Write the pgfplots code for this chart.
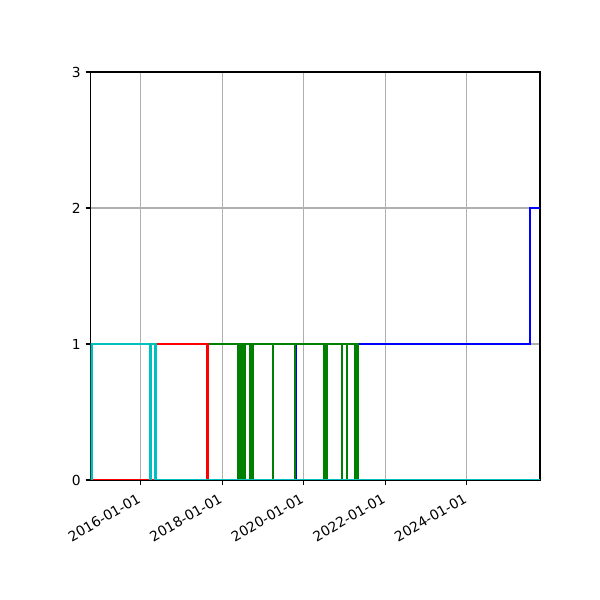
\documentclass[border=0pt]{standalone}
\usepackage{fontspec}
\setmainfont{DejaVu Sans}
\usepackage{pgfplots}
\pgfplotsset{compat=1.18}
\definecolor{mplb}{rgb}{0,0,1}
\definecolor{mplg}{rgb}{0,0.5,0}
\definecolor{mplr}{rgb}{1,0,0}
\definecolor{mplc}{rgb}{0,0.75,0.75}
\definecolor{gridgray}{HTML}{B0B0B0}
\begin{document}
\begin{tikzpicture}
\path (0,0) rectangle (6in,6in);
\begin{axis}[
  at={(0.905in,1.2in)}, anchor=south west,
  scale only axis, width=4.495in, height=4.08in,
  xmin=2014.7745, xmax=2025.792, ymin=0, ymax=3,
  xtick={2016,2018,2020,2022,2024},
  xticklabels={2016-01-01,2018-01-01,2020-01-01,2022-01-01,2024-01-01},
  ytick={0,1,2,3},
  /pgf/number format/assume math mode=true,
  tick pos=left, tick align=outside,
  major tick length=3.5bp,
  every tick/.style={black, line width=0.8bp},
  axis line style={black, line width=0.8bp},
  grid=major,
  major grid style={gridgray, line width=0.8bp},
  ticklabel style={font=\fontsize{10}{12}\selectfont},
  xticklabel style={rotate=30, anchor=north east, xshift=-2bp},
  every axis plot/.append style={line width=1.5bp, const plot, mark=none},
]
% blue
\addplot[mplb] coordinates {
(2014.7745,0)
(2018.384,1)(2018.390,0)
(2018.758,1)(2018.764,0)
(2019.800,1)(2019.806,0)
(2020.944,1)(2020.950,0)
(2021.066,1)(2021.072,0)
(2021.338,1)(2025.547,2)(2025.792,2)};
% green
\addplot[mplg] coordinates {
(2014.7745,0)
(2017.642,1)
(2018.390,0)(2018.398,1)
(2018.426,0)(2018.434,1)
(2018.463,0)(2018.471,1)
(2018.500,0)(2018.508,1)
(2018.537,0)(2018.545,1)
(2018.561,0)(2018.569,1)
(2018.696,0)(2018.704,1)
(2018.745,0)(2018.753,1)
(2019.248,0)(2019.256,1)
(2019.787,0)(2019.795,1)
(2020.498,0)(2020.506,1)
(2020.537,0)(2020.545,1)
(2020.571,0)(2020.579,1)
(2020.931,0)(2020.939,1)
(2021.054,0)(2021.062,1)
(2021.265,0)(2021.273,1)
(2021.301,0)(2021.309,1)
(2021.338,0)(2025.792,0)};
% red
\addplot[mplr] coordinates {
(2014.7745,0)(2016.368,1)(2017.642,0)(2025.792,0)};
% cyan
\addplot[mplc] coordinates {
(2014.7745,0)(2014.799,1)(2016.238,0)(2016.246,1)(2016.368,0)(2025.792,0)};
\end{axis}
\end{tikzpicture}
\end{document}
